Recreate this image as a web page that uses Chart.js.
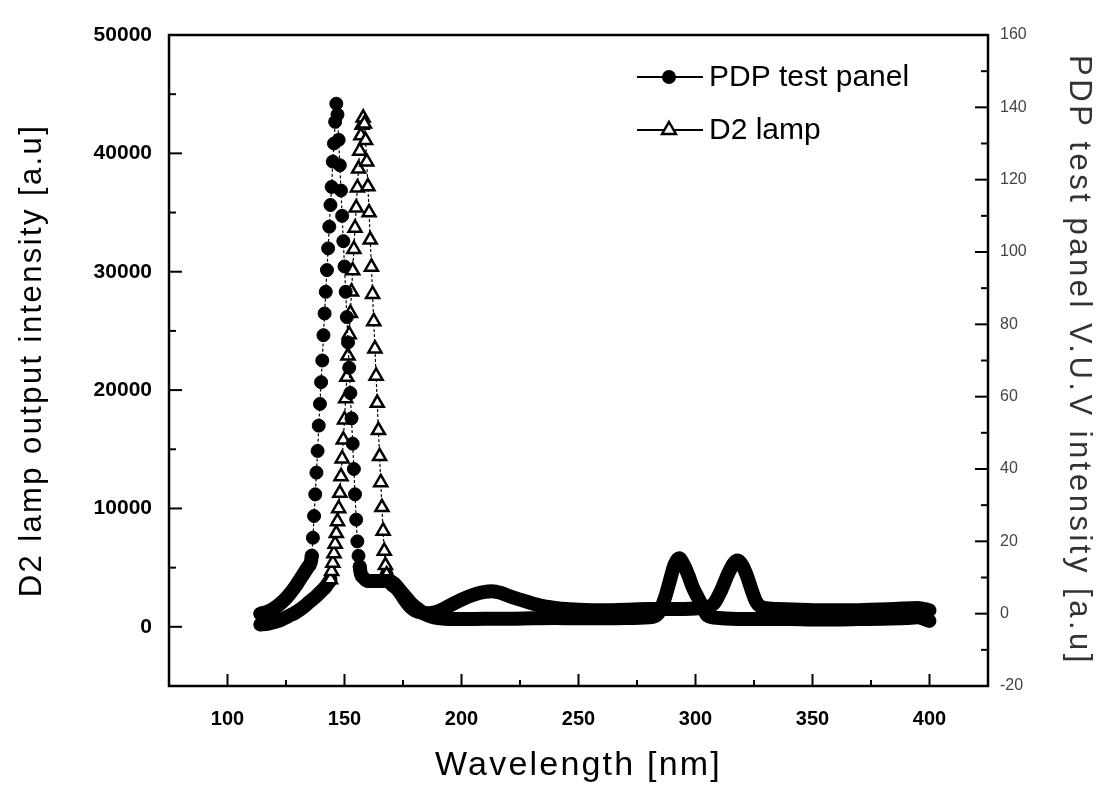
<!DOCTYPE html>
<html>
<head>
<meta charset="utf-8">
<script src="https://cdn.jsdelivr.net/npm/chart.js@4.4.1/dist/chart.umd.min.js"></script>
<style>
  html, body { margin: 0; padding: 0; background: #fff; }
  #wrap { width: 1102px; height: 790px; }
</style>
</head>
<body>
<div id="wrap"><canvas id="spectrum" width="1102" height="790"></canvas></div>
<script>
// PDP test panel (right axis), wavelength [nm] and V.U.V intensity [a.u]
var pdpNm = [114, 117, 120, 123, 126, 129, 131, 133, 134.5, 135.5, 136, 136.5,
  137, 137.5, 138, 138.5, 139, 139.5, 140, 140.5, 141, 141.5, 142, 142.5, 143, 143.5,
  144, 144.5, 145, 145.5, 146, 146.5, 147, 147.5, 148, 148.5, 149, 149.5, 150, 150.5,
  151, 151.5, 152, 152.5, 153, 153.5, 154, 154.5, 155, 155.5, 156, 156.5, 157, 158,
  160, 163, 166, 169, 171, 173, 175, 177, 179, 181, 184, 187, 190, 195, 200, 210,
  220, 230, 240, 250, 260, 270, 280, 284, 287, 289, 291, 293, 295, 297, 299, 301,
  303, 305, 310, 320, 330, 340, 350, 360, 370, 380, 390, 395, 400];
var pdpValue = [0, 0.5, 1.5, 3, 5, 7.5, 9.5, 11.5, 13, 14, 16, 21,
  27, 33, 39, 45, 52, 58, 64, 70, 77, 83, 89, 95, 101, 107,
  113, 118, 125, 130, 136, 141, 138, 131, 124, 117, 110, 103, 96, 89,
  82, 75, 68, 61, 54, 47, 40, 33, 26, 20, 16, 13, 11, 10,
  9, 9, 9, 9, 8.5, 7, 5.5, 4, 2.5, 1.5, 0, -0.8, -1.2, -1.5, -1.5, -1.4,
  -1.4, -1.3, -1.2, -1.3, -1.3, -1.2, -1, 0, 4.5, 9, 13.5, 15.3, 13.5, 10.5, 7, 4.5,
  2, -0.5, -1.2, -1.5, -1.5, -1.5, -1.6, -1.6, -1.5, -1.4, -1.2, -1, -2];

// D2 lamp (left axis), wavelength [nm] and output intensity [a.u]
var d2Nm = [114, 117, 120, 123, 126, 129, 132, 135, 138, 140, 142, 143,
  144, 144.5, 145, 145.5, 146, 146.5, 147, 147.5, 148, 148.5, 149, 149.5, 150, 150.5,
  151, 151.5, 152, 152.5, 153, 153.5, 154, 154.5, 155, 155.5, 156, 156.5, 157, 157.5,
  158, 158.5, 159, 159.5, 160, 160.5, 161, 161.5, 162, 162.5, 163, 163.5, 164, 164.5,
  165, 165.5, 166, 166.5, 167, 167.5, 168, 169, 170, 172, 174, 176, 178, 180, 183, 186,
  190, 195, 200, 205, 210, 213, 217, 221, 225, 230, 235, 240, 245, 250, 260, 270,
  280, 290, 300, 305, 308, 311, 314, 316.5, 318, 320, 322, 324, 326, 329, 335, 345,
  355, 365, 375, 385, 395, 400];
var d2Value = [200, 250, 400, 600, 900, 1200, 1600, 2100, 2600, 3000, 3400, 3700,
  4000, 4700, 5400, 6200, 7000, 7900, 8900, 10000, 11300, 12700, 14200, 15800, 17500, 19300,
  21100, 22900, 24700, 26500, 28300, 30100, 31900, 33700, 35400, 37100, 38700, 40200, 41500, 42400,
  43000, 42500, 41100, 39300, 37200, 35000, 32700, 30400, 28100, 25800, 23500, 21200, 18900, 16600,
  14400, 12200, 10100, 8100, 6400, 5200, 4400, 3900, 3600, 3300, 2800, 2200, 1700, 1400, 1200, 1150,
  1300, 1800, 2300, 2700, 2950, 3000, 2850, 2550, 2300, 2000, 1750, 1600, 1500, 1450, 1400, 1450,
  1500, 1500, 1550, 1650, 2000, 3100, 4500, 5400, 5600, 5200, 4300, 3100, 2100, 1600, 1500, 1450,
  1400, 1400, 1450, 1500, 1600, 1400];

// tick labels
var xTicks = [100, 150, 200, 250, 300, 350, 400];
var yTicks = [0, 10000, 20000, 30000, 40000, 50000];
var y2Ticks = [-20, 0, 20, 40, 60, 80, 100, 120, 140, 160];

// wavelength ranges where the single markers are visible (steep peaks)
var pdpMarkerRange = [136, 156.5];
var d2MarkerRange = [144, 168];

function inRange(v, r) { return v >= r[0] && v <= r[1]; }

function toPoints(xs, ys) {
  return xs.map(function (x, i) { return { x: x, y: ys[i] }; });
}

function midpoints(arr) {
  return arr.slice(1).map(function (v, i) { return (v + arr[i]) / 2; });
}

var titleSpacing = { x: '2.2px', y: '2.4px', y2: '3.5px' };

// letter spaced axis titles
var spacedTitles = {
  id: 'spacedTitles',
  beforeDraw: function (chart) {
    Object.keys(chart.scales).forEach(function (id) {
      var s = chart.scales[id];
      if (s._spaced) return;
      var orig = s.drawTitle;
      s.drawTitle = function () {
        this.ctx.save();
        this.ctx.letterSpacing = titleSpacing[this.id] || '0px';
        orig.call(this);
        this.ctx.restore();
      };
      s._spaced = true;
    });
  }
};

// box frame + inward ticks
var frameTicks = {
  id: 'frameTicks',
  afterDatasetsDraw: function (chart) {
    var ctx = chart.ctx, a = chart.chartArea, sc = chart.scales;
    ctx.save();
    ctx.strokeStyle = '#000';
    ctx.lineWidth = 2;
    function mark(x1, y1, x2, y2) { ctx.beginPath(); ctx.moveTo(x1, y1); ctx.lineTo(x2, y2); ctx.stroke(); }
    xTicks.forEach(function (v) { var p = sc.x.getPixelForValue(v); mark(p, a.bottom, p, a.bottom - 12); });
    midpoints(xTicks).forEach(function (v) { var p = sc.x.getPixelForValue(v); mark(p, a.bottom, p, a.bottom - 6); });
    yTicks.forEach(function (v) { var p = sc.y.getPixelForValue(v); mark(a.left, p, a.left + 13, p); });
    midpoints(yTicks).forEach(function (v) { var p = sc.y.getPixelForValue(v); mark(a.left, p, a.left + 7, p); });
    y2Ticks.forEach(function (v) { var p = sc.y2.getPixelForValue(v); mark(a.right, p, a.right - 13, p); });
    midpoints(y2Ticks).forEach(function (v) { var p = sc.y2.getPixelForValue(v); mark(a.right, p, a.right - 7, p); });
    ctx.lineWidth = 2.5;
    ctx.strokeRect(a.left, a.top, a.right - a.left, a.bottom - a.top);
    ctx.restore();
  }
};

// legend with line through marker
var lineLegend = {
  id: 'lineLegend',
  afterDraw: function (chart) {
    var ctx = chart.ctx, a = chart.chartArea;
    var x0 = a.left + 468;
    var rows = [a.top + 42, a.top + 95];
    chart.data.datasets.forEach(function (ds, i) {
      var y = rows[i], cx = x0 + 32;
      ctx.save();
      ctx.strokeStyle = '#000';
      ctx.lineWidth = 2;
      ctx.beginPath(); ctx.moveTo(x0, y); ctx.lineTo(x0 + 66, y); ctx.stroke();
      ctx.beginPath();
      if (ds.pointStyle === 'triangle') {
        var r = 8;
        ctx.moveTo(cx, y - r);
        ctx.lineTo(cx + r * 0.866, y + r * 0.5);
        ctx.lineTo(cx - r * 0.866, y + r * 0.5);
        ctx.closePath();
        ctx.fillStyle = '#fff';
        ctx.fill();
        ctx.lineWidth = 2.5;
        ctx.stroke();
      } else {
        ctx.arc(cx, y, 7, 0, Math.PI * 2);
        ctx.fillStyle = '#000';
        ctx.fill();
      }
      ctx.font = '30px "Liberation Sans", Arial, sans-serif';
      ctx.textBaseline = 'middle';
      ctx.fillStyle = '#000';
      ctx.fillText(ds.label, x0 + 72, y + 1);
      ctx.restore();
    });
  }
};

var ctxS = document.getElementById('spectrum').getContext('2d');
var spectrumChart = new Chart(ctxS, {
  type: 'line',
  data: {
    datasets: [
      {
        label: 'PDP test panel',
        data: toPoints(pdpNm, pdpValue),
        yAxisID: 'y2',
        borderColor: '#000',
        borderWidth: 14,
        borderCapStyle: 'round',
        borderJoinStyle: 'round',
        cubicInterpolationMode: 'monotone',
        fill: false,
        pointStyle: 'circle',
        pointBackgroundColor: '#000',
        pointBorderColor: '#000',
        pointBorderWidth: 1,
        pointRadius: function (c) { return inRange(pdpNm[c.dataIndex], pdpMarkerRange) ? 6.5 : 0; },
        segment: {
          borderWidth: function (c) {
            return inRange(pdpNm[c.p0DataIndex], pdpMarkerRange) && inRange(pdpNm[c.p1DataIndex], pdpMarkerRange) ? 1.2 : 14;
          },
          borderDash: function (c) {
            return inRange(pdpNm[c.p0DataIndex], pdpMarkerRange) && inRange(pdpNm[c.p1DataIndex], pdpMarkerRange) ? [2, 3] : [];
          }
        }
      },
      {
        label: 'D2 lamp',
        data: toPoints(d2Nm, d2Value),
        yAxisID: 'y',
        borderColor: '#000',
        borderWidth: 14,
        borderCapStyle: 'round',
        borderJoinStyle: 'round',
        cubicInterpolationMode: 'monotone',
        fill: false,
        pointStyle: 'triangle',
        pointBackgroundColor: '#fff',
        pointBorderColor: '#000',
        pointBorderWidth: 2.5,
        pointRadius: function (c) { return inRange(d2Nm[c.dataIndex], d2MarkerRange) ? 7.5 : 0; },
        segment: {
          borderWidth: function (c) {
            return inRange(d2Nm[c.p0DataIndex], d2MarkerRange) && inRange(d2Nm[c.p1DataIndex], d2MarkerRange) ? 1.2 : 14;
          },
          borderDash: function (c) {
            return inRange(d2Nm[c.p0DataIndex], d2MarkerRange) && inRange(d2Nm[c.p1DataIndex], d2MarkerRange) ? [2, 3] : [];
          }
        }
      }
    ]
  },
  options: {
    responsive: false,
    animation: false,
    events: [],
    layout: { padding: { top: 35, left: 0, right: 0, bottom: 0 } },
    plugins: {
      legend: { display: false },
      tooltip: { enabled: false }
    },
    scales: {
      x: {
        type: 'linear',
        position: 'bottom',
        min: 75,
        max: 425,
        afterBuildTicks: function (s) { s.ticks = xTicks.map(function (v) { return { value: v }; }); },
        afterFit: function (s) { s.height = 104; },
        grid: { display: false, drawTicks: false },
        border: { display: false },
        ticks: {
          padding: 21,
          color: '#000',
          font: { family: '"Liberation Sans", Arial, sans-serif', size: 20, weight: 'bold' },
          callback: function (v) { return String(v); }
        },
        title: {
          display: true,
          text: 'Wavelength [nm]',
          color: '#000',
          padding: { top: 0, bottom: 4 },
          font: { family: '"Liberation Sans", Arial, sans-serif', size: 34 }
        }
      },
      y: {
        type: 'linear',
        position: 'left',
        min: -5000,
        max: 50000,
        afterBuildTicks: function (s) { s.ticks = yTicks.map(function (v) { return { value: v }; }); },
        afterFit: function (s) { s.width = 169; },
        grid: { display: false, drawTicks: false },
        border: { display: false },
        ticks: {
          padding: 17,
          color: '#000',
          font: { family: '"Liberation Sans", Arial, sans-serif', size: 21, weight: 'bold' },
          callback: function (v) { return String(v); }
        },
        title: {
          display: true,
          text: 'D2 lamp output intensity [a.u]',
          color: '#000',
          padding: { top: 14, bottom: 0 },
          font: { family: '"Liberation Sans", Arial, sans-serif', size: 31 }
        }
      },
      y2: {
        type: 'linear',
        position: 'right',
        min: -20,
        max: 160,
        afterBuildTicks: function (s) { s.ticks = y2Ticks.map(function (v) { return { value: v }; }); },
        afterFit: function (s) { s.width = 114; },
        grid: { display: false, drawTicks: false },
        border: { display: false },
        ticks: {
          padding: 12,
          color: '#444',
          font: { family: '"Liberation Sans", Arial, sans-serif', size: 16 },
          callback: function (v) { return String(v); }
        },
        title: {
          display: true,
          text: 'PDP test panel V.U.V intensity [a.u]',
          color: '#333',
          padding: { top: 5, bottom: 0 },
          font: { family: '"Liberation Sans", Arial, sans-serif', size: 31 }
        }
      }
    }
  },
  plugins: [spacedTitles, frameTicks, lineLegend]
});
</script>
</body>
</html>
